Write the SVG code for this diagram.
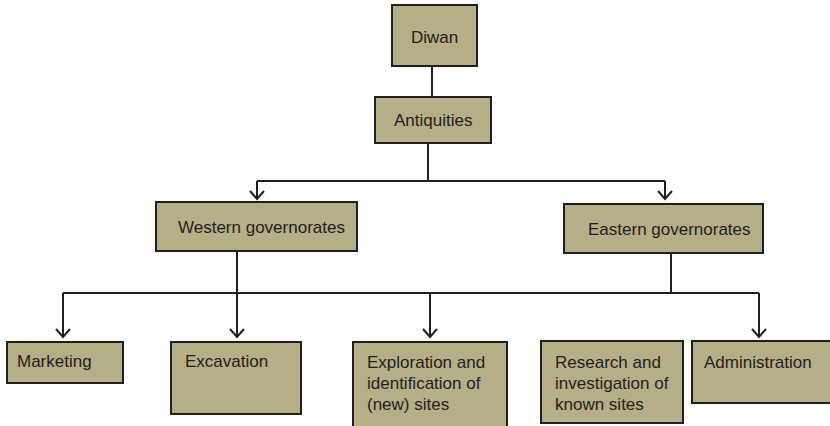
<svg xmlns="http://www.w3.org/2000/svg" width="830" height="426" viewBox="0 0 830 426">
<defs>
<style>
.box{fill:#b5ae87;stroke:#231f20;stroke-width:2}
.t{font-family:"Liberation Sans",Arial,sans-serif;font-size:17px;fill:#231f20}
.c{fill:none;stroke:#231f20;stroke-width:2}
</style>
<marker id="arr" markerUnits="userSpaceOnUse" markerWidth="14" markerHeight="18" viewBox="-11 -9 14 18" refX="0" refY="0" orient="auto" overflow="visible">
<path d="M-8,-7 L0,0 L-8,7" fill="none" stroke="#231f20" stroke-width="2"/>
</marker>
</defs>
<rect width="830" height="426" fill="#ffffff"/>
<g id="connectors">
<path class="c" d="M432,66 V97"/>
<path class="c" d="M428,143 V181"/>
<path class="c" d="M257,181 H665"/>
<path class="c" d="M257,181 V199" marker-end="url(#arr)"/>
<path class="c" d="M665,181 V199" marker-end="url(#arr)"/>
<path class="c" d="M237,251 V293"/>
<path class="c" d="M671,253 V293"/>
<path class="c" d="M63,293 H759"/>
<path class="c" d="M63,293 V337" marker-end="url(#arr)"/>
<path class="c" d="M237,293 V337" marker-end="url(#arr)"/>
<path class="c" d="M430,293 V337" marker-end="url(#arr)"/>
<path class="c" d="M759,293 V337" marker-end="url(#arr)"/>
</g>
<g id="diwan"><rect class="box" x="392" y="5" width="85" height="61"/><text class="t" x="411" y="43">Diwan</text></g>
<g id="antiquities"><rect class="box" x="375" y="97" width="116" height="46"/><text class="t" x="394" y="126">Antiquities</text></g>
<g id="western"><rect class="box" x="156" y="202" width="201" height="49"/><text class="t" x="178" y="233">Western governorates</text></g>
<g id="eastern"><rect class="box" x="564" y="204" width="199" height="49"/><text class="t" x="588" y="235">Eastern governorates</text></g>
<g id="marketing"><rect class="box" x="7" y="342" width="116" height="41"/><text class="t" x="17" y="367">Marketing</text></g>
<g id="excavation"><rect class="box" x="171" y="342" width="130" height="72"/><text class="t" x="185" y="367">Excavation</text></g>
<g id="exploration"><rect class="box" x="353" y="342" width="154" height="90"/><text class="t" x="367" y="368">Exploration and</text><text class="t" x="367" y="389">identification of</text><text class="t" x="367" y="410">(new) sites</text></g>
<g id="research"><rect class="box" x="541" y="341" width="142" height="82"/><text class="t" x="555" y="368">Research and</text><text class="t" x="555" y="389">investigation of</text><text class="t" x="555" y="410">known sites</text></g>
<g id="administration"><rect class="box" x="692" y="341" width="145" height="62"/><text class="t" x="704" y="368">Administration</text></g>
</svg>
